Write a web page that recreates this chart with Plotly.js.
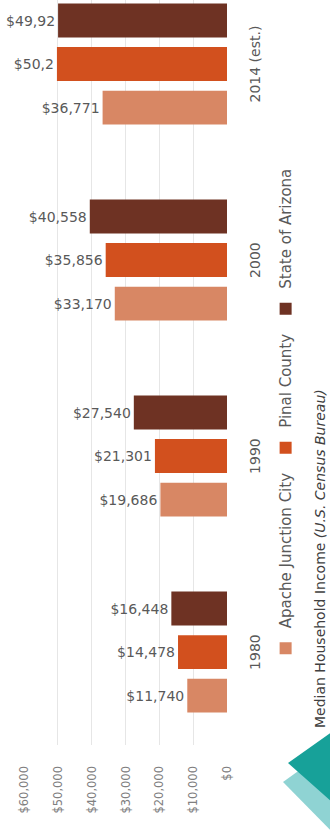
<!DOCTYPE html>
<html>
<head>
<meta charset="utf-8">
<script src="https://cdn.plot.ly/plotly-3.0.1.min.js"></script>
<style>
  html, body { margin: 0; padding: 0; width: 330px; height: 830px; overflow: hidden; background: #ffffff; }
  #chart { position: absolute; left: 0; top: 0; width: 830px; height: 330px;
           transform-origin: 0 0; transform: translate(0px, 830px) rotate(-90deg); }
</style>
</head>
<body>
<div id="chart"></div>
<script>
// Data
const years = ['1980', '1990', '2000', '2014 (est.)'];
const seriesNames = ['Apache Junction City', 'Pinal County', 'State of Arizona'];
const apacheJunction = [11740, 19686, 33170, 36771];
const pinalCounty = [14478, 21301, 35856, 50268];
const stateOfArizona = [16448, 27540, 40558, 49928];
// Value labels as printed in the reference (the 2014 labels are cut off there)
const apacheLabels = ['$11,740', '$19,686', '$33,170', '$36,771'];
const pinalLabels = ['$14,478', '$21,301', '$35,856', '$50,2'];
const arizonaLabels = ['$16,448', '$27,540', '$40,558', '$49,92'];
const valueTicks = [0, 10000, 20000, 30000, 40000, 50000, 60000];
const valueTickText = ['$0', '$10,000', '$20,000', '$30,000', '$40,000', '$50,000', '$60,000'];

const colors = ['#d88764', '#d2501e', '#6e3223'];
const FONT = 'DejaVu Sans, sans-serif';

const seriesValues = [apacheJunction, pinalCounty, stateOfArizona];
const seriesLabels = [apacheLabels, pinalLabels, arizonaLabels];

const traces = seriesNames.map((name, i) => ({
  type: 'bar',
  name: name,
  x: years,
  y: seriesValues[i],
  text: seriesLabels[i],
  textposition: 'outside',
  textangle: 90,
  constraintext: 'none',
  cliponaxis: false,
  textfont: { family: FONT, size: 14, color: '#595959' },
  marker: { color: colors[i] },
  hoverinfo: 'skip'
}));

// decorative teal shapes (paper coordinates)
const shapes = [
  { type: 'path', xref: 'paper', yref: 'paper', layer: 'above',
    path: 'M -0.0497 -0.2759 L 0.0054 -0.5567 L -0.1275 -0.5567 Z',
    fillcolor: '#8fd3d3', line: { width: 0 } },
  { type: 'path', xref: 'paper', yref: 'paper', layer: 'above',
    path: 'M -0.0242 -0.3005 L 0.0255 -0.5567 L -0.0859 -0.5567 Z',
    fillcolor: '#17a199', line: { width: 0 } }
];

const layout = {
  width: 830, height: 330,
  margin: { l: 85, r: 0, t: 24, b: 103, pad: 0 },
  paper_bgcolor: '#ffffff', plot_bgcolor: '#ffffff',
  font: { family: FONT, color: '#595959' },
  barmode: 'group', bargap: 0.334, bargroupgap: 0.22,
  xaxis: {
    type: 'category', range: [-0.474, 3.327],
    showgrid: false, zeroline: false, showline: false, ticks: '',
    tickfont: { family: FONT, size: 14, color: '#595959' },
    ticklabelstandoff: 18, fixedrange: true
  },
  yaxis: {
    range: [0, 60000], tickmode: 'array', tickvals: valueTicks, ticktext: valueTickText,
    showgrid: true, gridcolor: '#e6e6e6', gridwidth: 1, zeroline: false, showline: false, ticks: '',
    tickfont: { family: FONT, size: 11.5, color: '#808080' },
    ticklabelstandoff: 20, fixedrange: true
  },
  showlegend: true,
  legend: {
    orientation: 'h', x: 0.103, xanchor: 'left', y: -0.29, yanchor: 'middle',
    font: { family: FONT, size: 15, color: '#595959' }, bgcolor: 'rgba(0,0,0,0)',
    traceorder: 'normal'
  },
  annotations: [{
    xref: 'paper', yref: 'paper', x: 0.02, y: -0.458, xanchor: 'left', yanchor: 'middle',
    text: 'Median Household Income <i>(U.S. Census Bureau)</i>', showarrow: false,
    font: { family: FONT, size: 14, color: '#404040' }
  }],
  shapes: shapes
};

Plotly.newPlot('chart', traces, layout, { staticPlot: true, displayModeBar: false });
</script>
</body>
</html>
